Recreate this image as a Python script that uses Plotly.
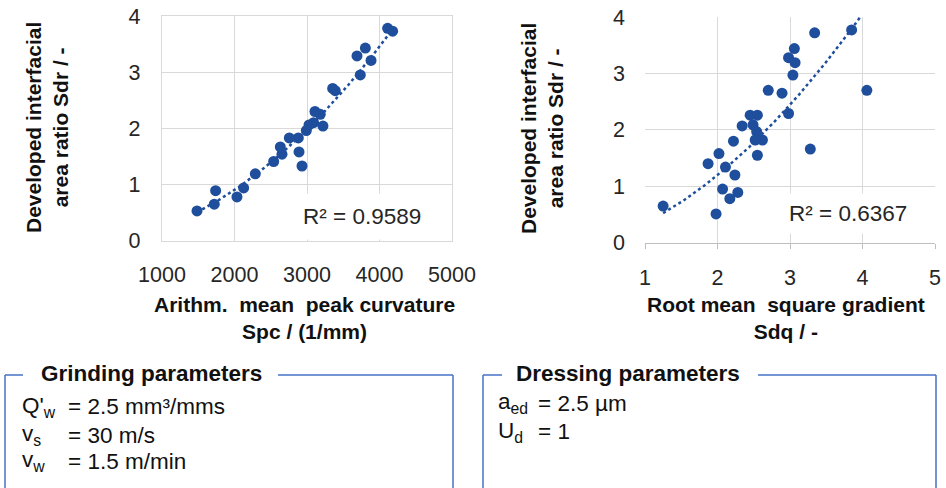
import numpy as np
import plotly.graph_objects as go

# Arithmetic mean peak curvature Spc (1/mm) vs developed interfacial area ratio Sdr
spc = [1483, 1721, 1740, 2034, 2126, 2287, 2540, 2655, 2632, 2756, 2880, 2890, 2931, 2990,
       3028, 3091, 3110, 3183, 3220, 3354, 3390, 3690, 3805, 3883, 3735, 4112, 4181]
sdr_spc = [0.53, 0.65, 0.89, 0.78, 0.94, 1.19, 1.41, 1.54, 1.67, 1.83, 1.83, 1.58, 1.33, 1.96,
           2.06, 2.10, 2.30, 2.25, 2.04, 2.71, 2.67, 3.29, 3.43, 3.21, 2.95, 3.78, 3.73]

# Root mean square gradient Sdq vs Sdr
sdq = [1.25, 1.98, 1.87, 2.02, 2.07, 2.11, 2.17, 2.24, 2.28, 2.22, 2.34, 2.45, 2.55, 2.49, 2.54,
       2.52, 2.62, 2.55, 2.70, 2.89, 2.98, 2.98, 3.06, 3.07, 3.04, 3.28, 3.34, 3.85, 4.06]
sdr_sdq = [0.65, 0.51, 1.40, 1.58, 0.95, 1.34, 0.78, 1.20, 0.89, 1.80, 2.07, 2.26, 2.26, 2.09, 1.97,
           1.82, 1.82, 1.55, 2.70, 2.65, 2.29, 3.28, 3.44, 3.19, 2.97, 1.66, 3.72, 3.77, 2.70]

r2_labels = ["R² = 0.9589", "R² = 0.6367"]
x_ticks_spc = [1000, 2000, 3000, 4000, 5000]
x_ticks_sdq = [1, 2, 3, 4, 5]
y_ticks = [0, 1, 2, 3, 4]

W, H = 946, 488
BLUE = "#1F4E9C"
GRID = "#D9D9D9"
FONT = "Liberation Sans"


def px(x):
    return x / W


def py(y):
    return 1 - y / H


def power_trend(x, y, n=200):
    """Power-law trendline y = k * x^b fitted in log-log space."""
    b, lnk = np.polyfit(np.log(x), np.log(y), 1)
    xs = np.linspace(min(x), max(x), n)
    return xs, np.exp(lnk) * xs ** b


t1x, t1y = power_trend(spc, sdr_spc)
t2x, t2y = power_trend(sdq, sdr_sdq)

fig = go.Figure()
fig.add_trace(go.Scatter(x=t1x, y=t1y, mode="lines", line=dict(color=BLUE, width=2.5, dash="dot"),
                         xaxis="x", yaxis="y", hoverinfo="skip"))
fig.add_trace(go.Scatter(x=spc, y=sdr_spc, mode="markers", marker=dict(color=BLUE, size=11),
                         xaxis="x", yaxis="y"))
fig.add_trace(go.Scatter(x=t2x, y=t2y, mode="lines", line=dict(color=BLUE, width=2.5, dash="dot"),
                         xaxis="x2", yaxis="y2", hoverinfo="skip"))
fig.add_trace(go.Scatter(x=sdq, y=sdr_sdq, mode="markers", marker=dict(color=BLUE, size=11),
                         xaxis="x2", yaxis="y2"))

tickfont = dict(family=FONT, size=21.5, color="#262626")

fig.update_layout(
    template="none",
    width=W, height=H, margin=dict(l=0, r=0, t=0, b=0, pad=0), autosize=False,
    paper_bgcolor="white", plot_bgcolor="white", showlegend=False,
    xaxis=dict(domain=[px(162), px(452)], range=[1000, 5000], tickvals=x_ticks_spc,
               showgrid=True, gridcolor=GRID, gridwidth=1.3, zeroline=False,
               showline=True, linecolor=GRID, linewidth=1.3, mirror=True, automargin=False,
               tickfont=tickfont, ticks="", ticklabelstandoff=14, anchor="y"),
    yaxis=dict(domain=[py(240.7), py(16)], range=[0, 4], tickvals=y_ticks,
               showgrid=True, gridcolor=GRID, gridwidth=1.3, zeroline=False,
               showline=True, linecolor=GRID, linewidth=1.3, mirror=True, automargin=False,
               tickfont=tickfont, ticks="", ticklabelstandoff=16, anchor="x"),
    xaxis2=dict(domain=[px(645), px(935)], range=[1, 5], tickvals=x_ticks_sdq,
                showgrid=True, gridcolor=GRID, gridwidth=1.3, zeroline=False,
                showline=True, linecolor="#BFBFBF", linewidth=1.3, automargin=False,
                ticks="outside", ticklen=5, tickcolor="#BFBFBF", tickwidth=1.3,
                tickfont=tickfont, ticklabelstandoff=10, anchor="y2"),
    yaxis2=dict(domain=[py(242.7), py(17)], range=[0, 4], tickvals=y_ticks,
                showgrid=True, gridcolor=GRID, gridwidth=1.3, zeroline=False, automargin=False,
                showline=False, tickfont=tickfont, ticks="", ticklabelstandoff=19, anchor="x2"),
)

ann = []
txt = dict(family=FONT, size=22.5, color="#262626")
# R² labels on white boxes
ann.append(dict(x=px(362), y=py(216.7), xref="paper", yref="paper", text=r2_labels[0],
                showarrow=False, font=txt, bgcolor="white", borderpad=10,
                xanchor="center", yanchor="middle"))
ann.append(dict(x=px(854), y=py(213.3), xref="paper", yref="paper", text=r2_labels[1] + "  ",
                showarrow=False, font=txt, bgcolor="white", borderpad=7,
                xanchor="center", yanchor="middle"))

bold = dict(family=FONT, size=21, color="#111111")
# Axis titles
ann.append(dict(x=px(47), y=py(128), xref="paper", yref="paper", textangle=-90,
                text="<b>Developed interfacial<br>area ratio Sdr / -</b>", showarrow=False,
                font=bold, xanchor="center", yanchor="middle"))
ann.append(dict(x=px(542), y=py(129), xref="paper", yref="paper", textangle=-90,
                text="<b>Developed interfacial<br>area ratio Sdr / -</b>", showarrow=False,
                font=bold, xanchor="center", yanchor="middle"))
ann.append(dict(x=px(304), y=py(318), xref="paper", yref="paper",
                text="<b>Arithm.  mean  peak curvature<br>Spc / (1/mm)</b>", showarrow=False,
                font=bold, xanchor="center", yanchor="middle"))
ann.append(dict(x=px(786), y=py(318), xref="paper", yref="paper",
                text="<b>Root mean  square gradient<br>Sdq / -</b>", showarrow=False,
                font=bold, xanchor="center", yanchor="middle"))

# Parameter boxes
bold_box = dict(family=FONT, size=22.5, color="#111111")
ann.append(dict(x=px(151), y=py(373), xref="paper", yref="paper", text="<b>Grinding parameters</b>",
                showarrow=False, font=bold_box, xanchor="center", yanchor="middle"))
ann.append(dict(x=px(628), y=py(373), xref="paper", yref="paper", text="<b>Dressing parameters</b>",
                showarrow=False, font=bold_box, xanchor="center", yanchor="middle"))

reg = dict(family=FONT, size=22.5, color="#111111")
grind_names = ["Q'<sub>w</sub>", "v<sub>s</sub>", "v<sub>w</sub>"]
grind_vals = ["= 2.5 mm³/mms", "= 30 m/s", "= 1.5 m/min"]
grind_y = [406.7, 435, 461]
for n, v, yy in zip(grind_names, grind_vals, grind_y):
    ann.append(dict(x=px(20), y=py(yy), xref="paper", yref="paper", text=n, showarrow=False,
                    font=reg, xanchor="left", yanchor="middle"))
    ann.append(dict(x=px(66), y=py(yy), xref="paper", yref="paper", text=v, showarrow=False,
                    font=reg, xanchor="left", yanchor="middle"))

dress_names = ["a<sub>ed</sub>", "U<sub>d</sub>"]
dress_vals = ["= 2.5 µm", "= 1"]
dress_y = [403.3, 431.7]
for n, v, yy in zip(dress_names, dress_vals, dress_y):
    ann.append(dict(x=px(496), y=py(yy), xref="paper", yref="paper", text=n, showarrow=False,
                    font=reg, xanchor="left", yanchor="middle"))
    ann.append(dict(x=px(536), y=py(yy), xref="paper", yref="paper", text=v, showarrow=False,
                    font=reg, xanchor="left", yanchor="middle"))

fig.update_layout(annotations=ann)

BOX = "#4472C4"
shapes = []
for x0, x1, g0, g1 in [(5, 453, 23, 278), (483, 936, 502, 758)]:
    shapes.append(dict(type="line", xref="paper", yref="paper", x0=px(x0), x1=px(g0),
                       y0=py(375), y1=py(375), line=dict(color=BOX, width=1.5)))
    shapes.append(dict(type="line", xref="paper", yref="paper", x0=px(g1), x1=px(x1),
                       y0=py(375), y1=py(375), line=dict(color=BOX, width=1.5)))
    shapes.append(dict(type="line", xref="paper", yref="paper", x0=px(x0), x1=px(x0),
                       y0=py(375), y1=py(492), line=dict(color=BOX, width=1.5)))
    shapes.append(dict(type="line", xref="paper", yref="paper", x0=px(x1), x1=px(x1),
                       y0=py(375), y1=py(492), line=dict(color=BOX, width=1.5)))
fig.update_layout(shapes=shapes)

fig.write_html("out.html")
